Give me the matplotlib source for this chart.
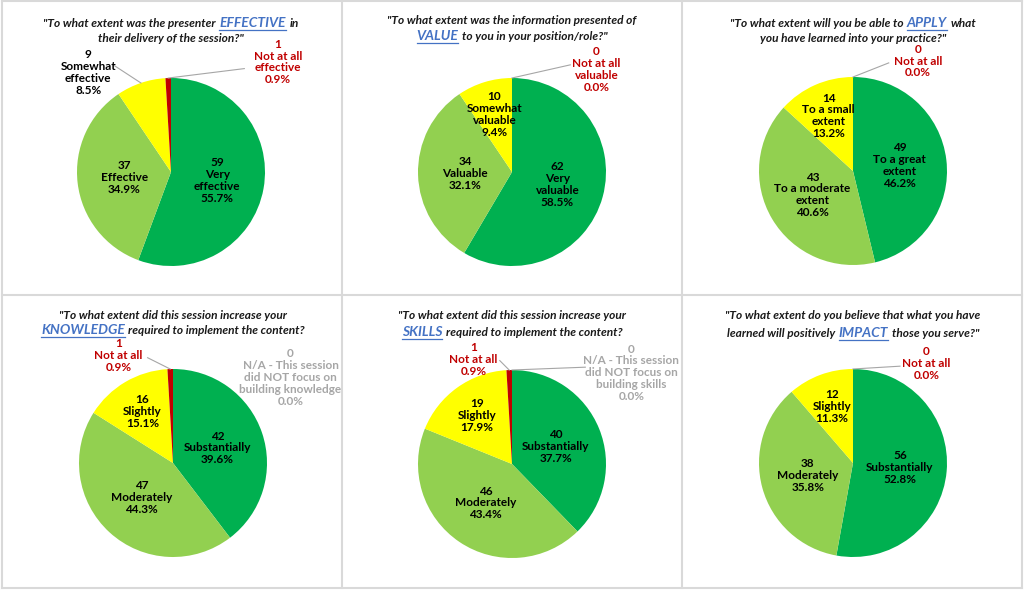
import numpy as np
import matplotlib.pyplot as plt

W, H = 1024, 590
plt.rcParams['font.family'] = ['Lato', 'DejaVu Sans']

DARK_GREEN = '#00B050'
LIGHT_GREEN = '#92D050'
YELLOW = '#FFFF00'
RED = '#C00000'
GREY = '#A6A6A6'
BLUE = '#4472C4'

# ---- data ----
q1_labels = ["Very\neffective", "Effective", "Somewhat\neffective", "Not at all\neffective"]
q1_counts = [59, 37, 9, 1]
q1_title = [[("\"To what extent was the presenter", False), ("EFFECTIVE", True), ("in", False)],
            [("their delivery of the session?\"", False)]]

q2_labels = ["Very\nvaluable", "Valuable", "Somewhat\nvaluable", "Not at all\nvaluable"]
q2_counts = [62, 34, 10, 0]
q2_title = [[("\"To what extent was the information presented of", False)],
            [("VALUE", True), ("to you in your position/role?\"", False)]]

q3_labels = ["To a great\nextent", "To a moderate\nextent", "To a small\nextent", "Not at all"]
q3_counts = [49, 43, 14, 0]
q3_title = [[("\"To what extent will you be able to", False), ("APPLY", True), ("what", False)],
            [("you have learned into your practice?\"", False)]]

q4_labels = ["Substantially", "Moderately", "Slightly", "Not at all",
             "N/A - This session\ndid NOT focus on\nbuilding knowledge"]
q4_counts = [42, 47, 16, 1, 0]
q4_title = [[("\"To what extent did this session increase your", False)],
            [("KNOWLEDGE", True), ("required to implement the content?", False)]]

q5_labels = ["Substantially", "Moderately", "Slightly", "Not at all",
             "N/A - This session\ndid NOT focus on\nbuilding skills"]
q5_counts = [40, 46, 19, 1, 0]
q5_title = [[("\"To what extent did this session increase your", False)],
            [("SKILLS", True), ("required to implement the content?", False)]]

q6_labels = ["Substantially", "Moderately", "Slightly", "Not at all"]
q6_counts = [56, 38, 12, 0]
q6_title = [[("\"To what extent do you believe that what you have", False)],
            [("learned will positively ", False), ("IMPACT", True), ("those you serve?\"", False)]]

slice_colors = [DARK_GREEN, LIGHT_GREEN, YELLOW, RED, '#BFBFBF']
text_colors = ['black', 'black', 'black', RED, GREY]

# ---- layout (pixel coords, y from top) ----
# outside labels: slice index -> (text x, text y, leader x, leader y) in radius units
charts = [
    dict(labels=q1_labels, counts=q1_counts, title=q1_title, center=(171, 172), tx=171, ty=(23, 38),
         outside={2: (-0.88, 1.06, -0.60, 1.13), 3: (1.14, 1.17, 0.78, 1.10)}),
    dict(labels=q2_labels, counts=q2_counts, title=q2_title, center=(512, 172), tx=512, ty=(20, 36),
         outside={3: (0.90, 1.09, 0.62, 1.14)}),
    dict(labels=q3_labels, counts=q3_counts, title=q3_title, center=(853, 171), tx=853, ty=(23, 38),
         outside={3: (0.69, 1.17, 0.38, 1.15)}),
    dict(labels=q4_labels, counts=q4_counts, title=q4_title, center=(173, 463), tx=173, ty=(315, 330),
         outside={3: (-0.58, 1.14, -0.27, 1.12), 4: (1.25, 0.91, None, None)}),
    dict(labels=q5_labels, counts=q5_counts, title=q5_title, center=(512, 464), tx=512, ty=(315, 332),
         outside={3: (-0.41, 1.11, -0.13, 1.10), 4: (1.27, 0.97, 0.78, 1.03)}),
    dict(labels=q6_labels, counts=q6_counts, title=q6_title, center=(853, 463), tx=853, ty=(315, 333),
         outside={3: (0.78, 1.06, 0.50, 1.03)}),
]
R = 94
LABEL_SIZE = 8.5

fig = plt.figure(figsize=(W / 100, H / 100), dpi=100)
bg = fig.add_axes([0, 0, 1, 1])
bg.set_xlim(0, W)
bg.set_ylim(0, H)
bg.axis('off')

# panel grid
for x in [2, 342, 682, 1022]:
    bg.plot([x, x], [H - 1, H - 588], color='#D9D9D9', lw=1.5)
for y in [1, 295, 588]:
    bg.plot([2, 1022], [H - y, H - y], color='#D9D9D9', lw=1.5)

renderer = fig.canvas.get_renderer()


def draw_title(cx, ys, lines):
    for y_top, parts in zip(ys, lines):
        y = H - y_top - 4
        texts = []
        for s, key in parts:
            t = bg.text(0, y, s.strip(), fontsize=10 if key else 8.6, fontweight='bold',
                        fontstyle='italic', color=BLUE if key else '#1a1a1a',
                        ha='left', va='baseline')
            texts.append(t)
        widths = [t.get_window_extent(renderer).width for t in texts]
        gap = 3.5
        x = cx - (sum(widths) + gap * (len(widths) - 1)) / 2
        for t, w, (s, key) in zip(texts, widths, parts):
            t.set_x(x)
            if key:
                bg.plot([x, x + w], [y - 2.5, y - 2.5], color=BLUE, lw=0.9)
            x += w + gap


for c in charts:
    cx, cy = c['center']
    ax = fig.add_axes([(cx - 1.25 * R) / W, (H - cy - 1.25 * R) / H, 2.5 * R / W, 2.5 * R / H])
    counts = np.array(c['counts'])
    n = len(counts)
    wedges, _ = ax.pie(counts, colors=slice_colors[:n], startangle=90, counterclock=False,
                       wedgeprops=dict(linewidth=0))
    ax.set_xlim(-1.25, 1.25)
    ax.set_ylim(-1.25, 1.25)
    pct = counts / counts.sum() * 100
    for i, w in enumerate(wedges):
        txt = f"{counts[i]}\n{c['labels'][i]}\n{pct[i]:.1f}%"
        ang = np.deg2rad((w.theta1 + w.theta2) / 2)
        if i in c['outside']:
            tx, ty, lx, ly = c['outside'][i]
            ax.text(tx, ty, txt, ha='center', va='center', fontsize=LABEL_SIZE, fontweight='bold',
                    color=text_colors[i], linespacing=1.1, clip_on=False)
            if lx is not None:
                ax.plot([lx, np.cos(ang)], [ly, np.sin(ang)], color=GREY, lw=0.8, clip_on=False)
        else:
            d = 0.5 if pct[i] >= 30 else 0.64
            ax.text(d * np.cos(ang), d * np.sin(ang), txt, ha='center', va='center',
                    fontsize=LABEL_SIZE, fontweight='bold', color=text_colors[i], linespacing=1.1)
    draw_title(c['tx'], c['ty'], c['title'])

fig.savefig('out.png', dpi=100)
